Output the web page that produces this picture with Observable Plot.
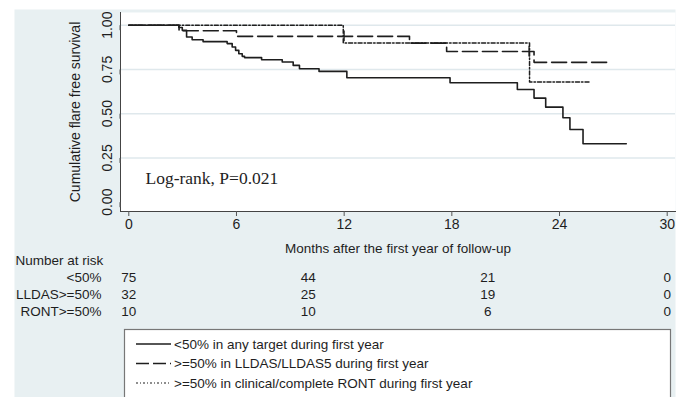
<!DOCTYPE html>
<html>
<head>
<meta charset="utf-8">
<script src="https://cdn.jsdelivr.net/npm/d3@7"></script>
<script src="https://cdn.jsdelivr.net/npm/@observablehq/plot@0.6"></script>
<style>
  html, body { margin: 0; padding: 0; background: #ffffff; }
  #chart { width: 682px; height: 397px; overflow: hidden; }
</style>
</head>
<body>
<div id="chart"></div>
<script>
// ---- data ----
const lt50Time = [0, 2.79, 2.98, 3.22, 3.53, 4.14, 5.48, 5.76, 5.95, 6.13, 6.32, 6.45, 7.40, 8.55, 9.16, 9.51, 10.6, 12.15, 17.9, 21.65, 22.58, 23.23, 24.19, 24.58, 25.31, 27.72];
const lt50Surv = [1.0, 0.987, 0.971, 0.933, 0.918, 0.907, 0.896, 0.877, 0.858, 0.839, 0.824, 0.817, 0.805, 0.792, 0.773, 0.754, 0.739, 0.703, 0.675, 0.637, 0.588, 0.537, 0.477, 0.411, 0.330, 0.330];

const lldasTime = [0, 2.8, 6.0, 15.64, 17.71, 22.58, 26.76];
const lldasSurv = [1.0, 0.969, 0.937, 0.899, 0.851, 0.790, 0.790];
const lldasCensorTime = [12.0, 22.3];
const lldasCensorSurv = [0.937, 0.851];

const rontTime = [0, 11.95, 22.33, 25.7];
const rontSurv = [1.0, 0.90, 0.679, 0.679];

const xTicks = [0, 6, 12, 18, 24, 30];
const yTicks = [0, 0.25, 0.5, 0.75, 1];
const gridTicks = [0.25, 0.5, 0.75, 1];

const riskTimes = [0, 10, 20, 30];
const riskLt50 = [75, 44, 21, 0];
const riskLldas = [32, 25, 19, 0];
const riskRont = [10, 10, 6, 0];
const groupLabels = ["<50%", "LLDAS>=50%", "RONT>=50%"];
const legendLabels = [
  "<50% in any target during first year",
  ">=50% in LLDAS/LLDAS5 during first year",
  ">=50% in clinical/complete RONT during first year"
];
const yTitle = "Cumulative flare free survival";
const xTitle = "Months after the first year of follow-up";
const riskTitle = "Number at risk";
const annotation = "Log-rank, P=0.021";

// ---- build tables ----
const zip = (ts, ss) => ts.map((t, i) => ({t, s: ss[i]}));
const lt50 = zip(lt50Time, lt50Surv);
const lldas = zip(lldasTime, lldasSurv);
const ront = zip(rontTime, rontSurv);
const lldasCens = zip(lldasCensorTime, lldasCensorSurv);
const riskRows = [riskLt50, riskLldas, riskRont].map(r => riskTimes.map((t, i) => ({t, n: r[i]})));

const INK = "#1e1e1e";
const FONT = "'Liberation Sans', Arial, sans-serif";
const DASH = "15,5";
const DASHDOT = "4,2,1.5,2";
const rowDy = [70, 87, 104];

const plot = Plot.plot({
  width: 682,
  height: 397,
  marginLeft: 120,
  marginRight: 7,
  marginTop: 12,
  marginBottom: 186,
  style: {background: "#ffffff", fontFamily: FONT, fontSize: "14px", color: INK},
  x: {domain: [0, 30], insetLeft: 8.3, insetRight: 8.3},
  y: {domain: [0, 1], insetTop: 12.7, insetBottom: 9.3},
  marks: [
    // graph region (light bluish gray) extending beyond the plot area
    Plot.frame({fill: "#e8f0f2", stroke: "none", insetLeft: -106, insetTop: -3, insetRight: 0, insetBottom: -190}),
    Plot.frame({fill: "white", stroke: "none"}),
    Plot.gridY(gridTicks, {stroke: "#dfe8ec", strokeOpacity: 1, strokeWidth: 1.5}),
    Plot.frame({anchor: "left", stroke: "#444"}),
    Plot.frame({anchor: "bottom", stroke: "#444"}),
    Plot.axisY({ticks: yTicks, tickFormat: d3.format(".2f"), tickSize: 5, tickPadding: 8, rotate: -90, textAnchor: "middle", label: null, stroke: "#555", fontSize: 14}),
    Plot.axisX({ticks: xTicks, tickSize: 5, tickPadding: 3, label: null, stroke: "#555", fontSize: 14}),
    Plot.line(lt50, {x: "t", y: "s", curve: "step-after", stroke: INK, strokeWidth: 1.6}),
    Plot.line(lldas, {x: "t", y: "s", curve: "step-after", stroke: INK, strokeWidth: 1.6, strokeDasharray: DASH}),
    Plot.line(ront, {x: "t", y: "s", curve: "step-after", stroke: INK, strokeWidth: 1.5, strokeDasharray: DASHDOT}),
    Plot.ruleX(lldasCens, {x: "t", y1: d => d.s - 0.03, y2: d => d.s + 0.03, stroke: INK, strokeWidth: 1.2}),
    Plot.text([yTitle], {frameAnchor: "left", rotate: -90, dx: -45, textAnchor: "middle", fontSize: 14, fill: INK}),
    Plot.text([annotation], {frameAnchor: "bottom-left", dx: 25, dy: -28, textAnchor: "start", fontFamily: "'Liberation Serif', 'Times New Roman', serif", fontSize: 17.5, fill: INK}),
    Plot.text([xTitle], {frameAnchor: "bottom", dy: 41, textAnchor: "middle", fontSize: 13.5, fill: INK}),
    Plot.text([riskTitle], {frameAnchor: "bottom-left", dx: -105, dy: 53, textAnchor: "start", fontSize: 13.5, fill: INK}),
    ...groupLabels.map((g, i) => Plot.text([g], {frameAnchor: "bottom-left", dx: -19, dy: rowDy[i], textAnchor: "end", fontSize: 13.5, fill: INK})),
    ...riskRows.map((rows, i) => Plot.text(rows, {x: "t", text: "n", frameAnchor: "bottom", dy: rowDy[i], textAnchor: "middle", fontSize: 13.5, fill: INK}))
  ]
});

document.getElementById("chart").appendChild(plot);

// ---- legend box ----
const svg = d3.select(plot);
const leg = svg.append("g");
leg.append("rect")
  .attr("x", 124.5).attr("y", 329.5).attr("width", 546).attr("height", 90)
  .attr("fill", "white").attr("stroke", "#777").attr("stroke-width", 1.2);
const legY = [344, 363.5, 383];
legendLabels.forEach((lab, i) => {
  leg.append("line")
    .attr("x1", 136).attr("x2", 171).attr("y1", legY[i]).attr("y2", legY[i])
    .attr("stroke", INK).attr("stroke-width", i === 2 ? 1.2 : 1.5)
    .attr("stroke-dasharray", i === 1 ? "13,4" : i === 2 ? "2,2,1,2" : null);
  leg.append("text")
    .attr("x", 174).attr("y", legY[i]).attr("dy", "0.35em")
    .attr("text-anchor", "start")
    .attr("font-family", FONT).attr("font-size", 13.5).attr("fill", INK)
    .text(lab);
});
</script>
</body>
</html>
